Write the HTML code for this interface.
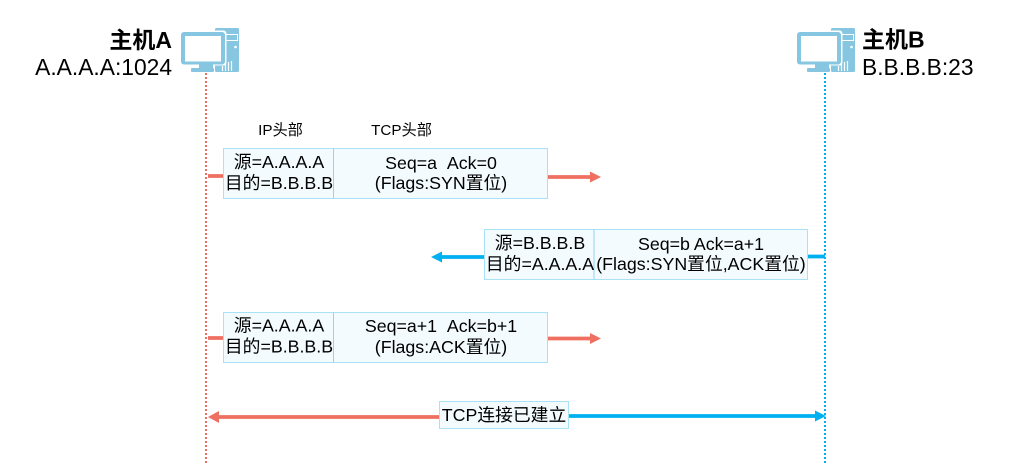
<!DOCTYPE html>
<html lang="zh">
<head>
<meta charset="utf-8">
<title>TCP three-way handshake</title>
<style>
html,body{margin:0;padding:0;background:#fff;width:1010px;height:475px;overflow:hidden}
svg{display:block}
text{font-family:"Liberation Sans","Noto Sans CJK SC",sans-serif;fill:#000}
.m{font-size:17.8px;text-anchor:middle}
.h{font-size:15.2px;text-anchor:middle}
.box{fill:#f3fbff;stroke:#a9e2f6;stroke-width:1}
.div{stroke:#8fd6f0;stroke-width:1}
.r{stroke:#ef6f61;stroke-width:3.8;fill:none}
.b{stroke:#00b0f0;stroke-width:3.8;fill:none}
.rf{fill:#ef6f61}
.bf{fill:#00b0f0}
</style>
</head>
<body>
<svg width="1010" height="475" viewBox="0 0 1010 475" xmlns="http://www.w3.org/2000/svg">
<rect width="1010" height="475" fill="#fff"/>

<!-- lifelines -->
<line x1="206" y1="73" x2="206" y2="463" stroke="#ef6f61" stroke-width="2" stroke-dasharray="2 2"/>
<line x1="825" y1="73" x2="825" y2="463" stroke="#00b0f0" stroke-width="2" stroke-dasharray="2 2"/>

<!-- computer A -->
<g id="pc">
<rect x="215" y="28" width="24" height="44" rx="1.500" fill="#86c6e0"/>
<rect x="225.500" y="34.500" width="12" height="6" fill="none" stroke="#fff" stroke-width="1"/>
<circle cx="235.500" cy="47" r="1.300" fill="#fff"/>
<path d="M222.500 71V66M225.500 71V64M228.500 71V62M231.500 71V61" stroke="#fff" stroke-width="1.200" fill="none"/>
<rect x="179.500" y="30.500" width="47" height="35" rx="3" fill="#fff"/>
<rect x="181" y="32" width="44" height="32.500" rx="3" fill="#86c6e0"/>
<rect x="185" y="36" width="36" height="25.500" fill="#fff"/>
<rect x="199" y="64" width="14" height="4" fill="#86c6e0"/>
<rect x="191" y="68" width="23" height="4" rx="1" fill="#86c6e0"/>
</g>
<!-- computer B -->
<use href="#pc" x="616"/>

<!-- host labels -->
<text x="172" y="48" text-anchor="end" font-size="23" font-weight="bold">主机A</text>
<text x="172" y="75" text-anchor="end" font-size="22.800">A.A.A.A:1024</text>
<text x="862" y="47.500" font-size="23" font-weight="bold">主机B</text>
<text x="862" y="75" font-size="22.800">B.B.B.B:23</text>

<!-- column heads -->
<text class="h" x="280.500" y="135">IP头部</text>
<text class="h" x="401.500" y="135">TCP头部</text>

<!-- segment 1 -->
<line class="r" x1="208" y1="176" x2="225" y2="176"/>
<rect class="box" x="223.500" y="148.500" width="324" height="50"/>
<line class="div" x1="333.500" y1="148.500" x2="333.500" y2="198.500"/>
<text class="m" x="279" y="168">源=A.A.A.A</text>
<text class="m" x="279" y="189">目的=B.B.B.B</text>
<text class="m" x="441" y="169">Seq=a&#160;&#160;Ack=0</text>
<text class="m" x="441" y="189">(Flags:SYN置位)</text>
<line class="r" x1="548" y1="177" x2="592" y2="177"/>
<path class="rf" d="M590 171.500L601 177L590 182.500Z"/>

<!-- segment 2 -->
<line class="b" x1="807" y1="256.500" x2="825" y2="256.500"/>
<rect class="box" x="484.500" y="229.500" width="323" height="50"/>
<line class="div" x1="594" y1="229.500" x2="594" y2="279.500"/>
<text class="m" x="540" y="249">源=B.B.B.B</text>
<text class="m" x="540" y="270">目的=A.A.A.A</text>
<text class="m" x="701" y="250">Seq=b Ack=a+1</text>
<text class="m" x="701" y="270">(Flags:SYN置位,ACK置位)</text>
<line class="b" x1="484" y1="257" x2="440" y2="257"/>
<path class="bf" d="M442 251.500L431 257L442 262.500Z"/>

<!-- segment 3 -->
<line class="r" x1="208" y1="338" x2="225" y2="338"/>
<rect class="box" x="223.500" y="312.500" width="324" height="50"/>
<line class="div" x1="333.500" y1="312.500" x2="333.500" y2="362.500"/>
<text class="m" x="279" y="331.500">源=A.A.A.A</text>
<text class="m" x="279" y="352.500">目的=B.B.B.B</text>
<text class="m" x="441" y="332">Seq=a+1&#160;&#160;Ack=b+1</text>
<text class="m" x="441" y="353">(Flags:ACK置位)</text>
<line class="r" x1="548" y1="338.500" x2="592" y2="338.500"/>
<path class="rf" d="M590 333L601 338.500L590 344Z"/>

<!-- established -->
<line class="r" x1="439" y1="417" x2="217" y2="417"/>
<path class="rf" d="M219 411L208 417L219 423Z"/>
<line class="b" x1="569" y1="416" x2="817" y2="416"/>
<path class="bf" d="M815 410.500L826 416L815 421.500Z"/>
<rect class="box" x="439.500" y="401.500" width="129" height="27"/>
<text class="m" x="504" y="421">TCP连接已建立</text>
</svg>
</body>
</html>
